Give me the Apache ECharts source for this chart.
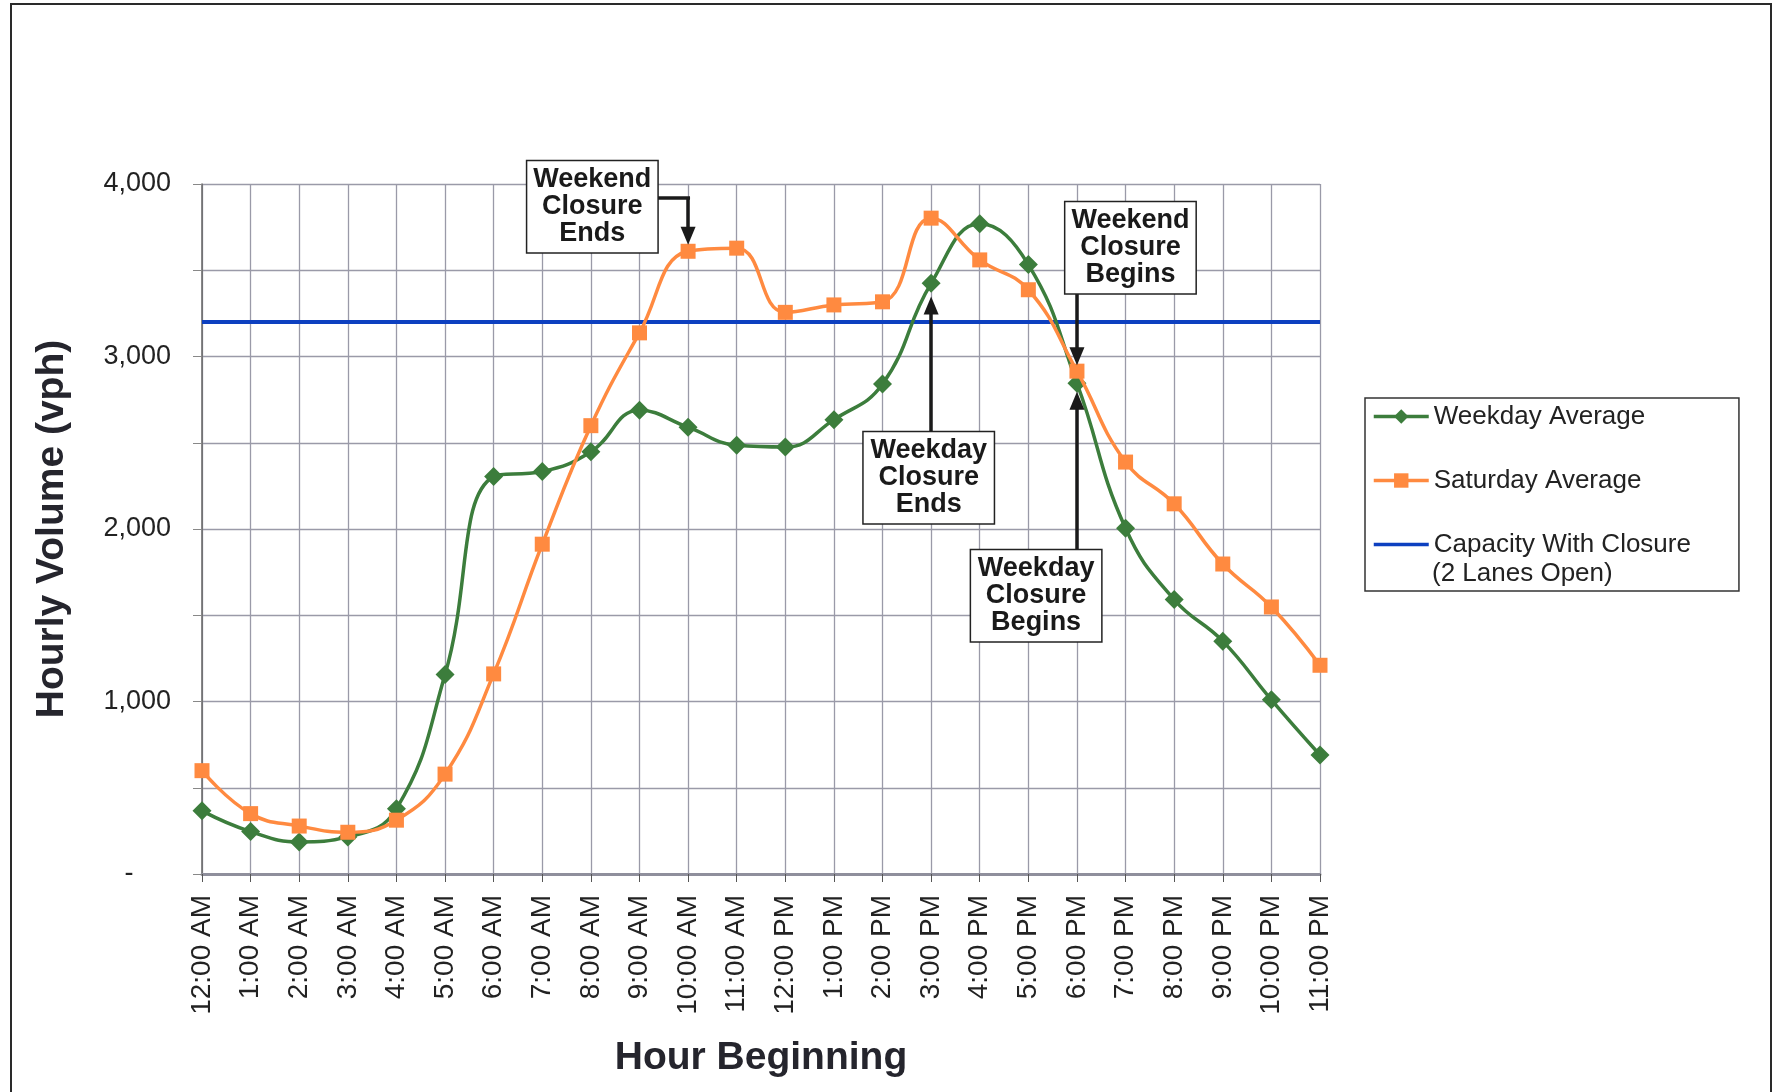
<!DOCTYPE html>
<html>
<head>
<meta charset="utf-8">
<title>Hourly Volume</title>
<script src="https://cdn.jsdelivr.net/npm/echarts@6/dist/echarts.min.js"></script>
<style>
  html, body { margin: 0; padding: 0; background: #fff; }
  #main { width: 1778px; height: 1092px; }
</style>
</head>
<body>
<div id="main"></div>
<script>
// hour beginning categories
const hours = ['12:00 AM', '1:00 AM', '2:00 AM', '3:00 AM', '4:00 AM', '5:00 AM',
  '6:00 AM', '7:00 AM', '8:00 AM', '9:00 AM', '10:00 AM', '11:00 AM',
  '12:00 PM', '1:00 PM', '2:00 PM', '3:00 PM', '4:00 PM', '5:00 PM',
  '6:00 PM', '7:00 PM', '8:00 PM', '9:00 PM', '10:00 PM', '11:00 PM'];

// vph
const weekdayAvg = [366, 246, 186, 215, 378, 1156, 2305, 2333, 2448, 2688, 2590, 2485,
  2475, 2634, 2840, 3424, 3770, 3533, 2845, 2004, 1591, 1350, 1010, 690];
const saturdayAvg = [599, 350, 278, 242, 312, 579, 1160, 1912, 2599, 3137, 3610, 3628,
  3256, 3299, 3317, 3802, 3560, 3387, 2915, 2388, 2146, 1797, 1548, 1210];
const capacityLine = [[0, 3200], [23, 3200]];

// callout boxes (x = hour index, y = vph)
const notes = [
  { text: 'Weekend\nClosure\nEnds', at: [8.03, 3868] },
  { text: 'Weekend\nClosure\nBegins', at: [19.1, 3631] },
  { text: 'Weekday\nClosure\nEnds', at: [14.95, 2297] },
  { text: 'Weekday\nClosure\nBegins', at: [17.16, 1613] }
];
const arrows = [
  { from: [9.36, 3921], to: [10.04, 3921], head: false },
  { from: [10, 3921], to: [10, 3700], head: true },
  { from: [18, 3370], to: [18, 3002], head: true },
  { from: [15, 2559], to: [15, 3295], head: true },
  { from: [18, 1874], to: [18, 2744], head: true }
];

const font = 'Liberation Sans, Arial, sans-serif';
const toXY = arr => arr.map((v, i) => [i, v]);

const chart = echarts.init(document.getElementById('main'));

chart.setOption({
  animation: false,
  backgroundColor: '#fff',
  textStyle: { fontFamily: font },
  grid: { left: 202, right: 458, top: 184, bottom: 218 },
  legend: {
    orient: 'vertical',
    left: 1365,
    top: 398,
    padding: [4, 48, 32, 7],
    itemGap: 35,
    itemWidth: 55,
    itemHeight: 18,
    borderColor: '#333',
    borderWidth: 1.5,
    backgroundColor: '#fff',
    selectedMode: false,
    lineStyle: { width: 3.5 },
    textStyle: { fontSize: 26, color: '#222', lineHeight: 29, fontFamily: font },
    data: [
      'Weekday Average',
      'Saturday Average',
      { name: 'Capacity With Closure', itemStyle: { opacity: 0 } }
    ]
  },
  xAxis: {
    type: 'value',
    min: 0,
    max: 23,
    interval: 1,
    name: 'Hour Beginning',
    nameLocation: 'middle',
    nameGap: 165,
    nameTextStyle: { fontSize: 39, fontWeight: 'bold', color: '#25252d', fontFamily: font },
    axisLine: { show: true, onZero: false, lineStyle: { color: '#8f8f9c', width: 3 } },
    axisTick: { show: true, length: 8, lineStyle: { color: '#555' } },
    axisLabel: {
      rotate: 90,
      margin: 21,
      fontSize: 28,
      color: '#222',
      formatter: v => hours[v] || ''
    },
    splitLine: { show: true, lineStyle: { color: '#9a9aa8', width: 1.3 } }
  },
  yAxis: {
    type: 'value',
    min: 0,
    max: 4000,
    interval: 500,
    name: 'Hourly Volume (vph)',
    nameLocation: 'middle',
    nameGap: 130,
    nameTextStyle: { fontSize: 39, fontWeight: 'bold', color: '#25252d', fontFamily: font },
    axisLine: { show: true, lineStyle: { color: '#666', width: 1.5 } },
    axisTick: { show: true, length: 9, lineStyle: { color: '#888' } },
    axisLabel: {
      margin: 31,
      fontSize: 27,
      color: '#222',
      formatter: function (v) {
        if (v === 0) return '-     ';
        if (v % 1000) return '';
        return v.toLocaleString('en-US');
      }
    },
    splitLine: { show: true, lineStyle: { color: '#9a9aa8', width: 1.3 } }
  },
  graphic: [
    {
      type: 'rect',
      z: -10,
      shape: { x: 11, y: 4, width: 1760, height: 1100 },
      style: { fill: 'none', stroke: '#2a2a2a', lineWidth: 2 }
    },
    {
      type: 'text',
      z: 100,
      style: {
        text: '(2 Lanes Open)',
        x: 1432,
        y: 574,
        verticalAlign: 'middle',
        font: '26px ' + font,
        fill: '#222'
      }
    }
  ],
  series: [
    {
      name: 'Capacity With Closure',
      type: 'line',
      data: capacityLine,
      symbol: 'none',
      z: 2,
      lineStyle: { color: '#0d40c0', width: 4 },
      itemStyle: { color: '#0d40c0' },
      markLine: {
        silent: true,
        label: { show: false },
        lineStyle: { color: '#1a1a1a', width: 3.5, type: 'solid' },
        symbolSize: [15, 18],
        data: arrows.map(a => [
          { coord: a.from, symbol: 'none' },
          { coord: a.to, symbol: a.head ? 'triangle' : 'none' }
        ])
      },
      markPoint: {
        silent: true,
        symbol: 'rect',
        symbolSize: 1,
        itemStyle: { color: 'rgba(0,0,0,0)' },
        label: {
          show: true,
          position: 'inside',
          formatter: p => p.name,
          backgroundColor: '#fff',
          borderColor: '#222',
          borderWidth: 1.5,
          padding: [5, 8],
          width: 114,
          align: 'center',
          fontSize: 27,
          fontWeight: 'bold',
          lineHeight: 27,
          color: '#1a1a1a',
          fontFamily: font
        },
        data: notes.map(n => ({ name: n.text, coord: n.at }))
      }
    },
    {
      name: 'Weekday Average',
      type: 'line',
      data: toXY(weekdayAvg),
      smooth: 0.45,
      symbol: 'diamond',
      symbolSize: 19,
      z: 3,
      itemStyle: { color: '#3c7d3c' },
      lineStyle: { color: '#3c7d3c', width: 3.5 }
    },
    {
      name: 'Saturday Average',
      type: 'line',
      data: toXY(saturdayAvg),
      smooth: 0.45,
      symbol: 'rect',
      symbolSize: 15,
      z: 4,
      itemStyle: { color: '#ff8a40' },
      lineStyle: { color: '#ff8a40', width: 3.5 }
    }
  ]
});
</script>
</body>
</html>
